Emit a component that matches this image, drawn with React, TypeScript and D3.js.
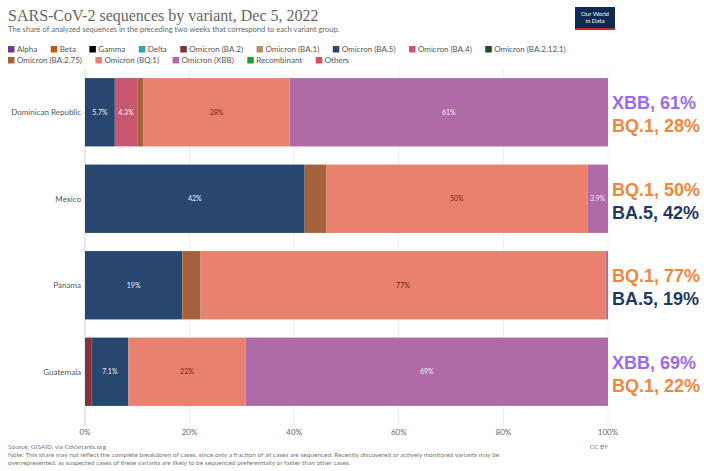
import React, { useMemo } from "react";
import * as d3 from "d3";

const countries = ["Dominican Republic", "Mexico", "Panama", "Guatemala"];
const variants = [
  "Alpha", "Beta", "Gamma", "Delta", "Omicron (BA.2)", "Omicron (BA.1)",
  "Omicron (BA.5)", "Omicron (BA.4)", "Omicron (BA.2.12.1)", "Omicron (BA.2.75)",
  "Omicron (BQ.1)", "Omicron (XBB)", "Recombinant", "Others",
];
const variantColors = [
  "#6d3e91", "#c05917", "#000000", "#3aa0a4", "#883039", "#c08a6c",
  "#27476f", "#c8566e", "#1b4a24", "#a5623a", "#e8816d", "#b16aa8", "#2b9a35", "#e24a5d",
];
// share (%) per country, in the order of `countries`
const ba2 = [0, 0, 0, 1.2];
const ba5 = [5.7, 42, 18.6, 7.1];
const ba4 = [4.3, 0, 0, 0];
const ba275 = [1.2, 4.1, 3.5, 0];
const bq1 = [27.9, 50, 77.4, 22.4];
const xbb = [60.9, 3.9, 0.5, 69.3];

const xTicks = [0, 20, 40, 60, 80, 100];

const annotTop = ["XBB, 61%", "BQ.1, 50%", "BQ.1, 77%", "XBB, 69%"];
const annotTopKind = ["XBB", "BQ.1", "BQ.1", "XBB"];
const annotBottom = ["BQ.1, 28%", "BA.5, 42%", "BA.5, 19%", "BQ.1, 22%"];
const annotBottomKind = ["BQ.1", "BA.5", "BA.5", "BQ.1"];
const annotColors: Record<string, string> = { XBB: "#9a6bf2", "BQ.1": "#f0873f", "BA.5": "#1f3a66" };

const title = "SARS-CoV-2 sequences by variant, Dec 5, 2022";
const subtitle = "The share of analyzed sequences in the preceding two weeks that correspond to each variant group.";
const source = "Source: GISAID, via CoVariants.org";
const note1 = "Note: This share may not reflect the complete breakdown of cases, since only a fraction of all cases are sequenced. Recently discovered or actively monitored variants may be";
const note2 = "overrepresented, as suspected cases of these variants are likely to be sequenced preferentially or faster than other cases.";

const W = 704, H = 471;
const FONT = "Lato, 'Noto Sans', sans-serif";

function measure(text: string, font: string) {
  const c = document.createElement("canvas").getContext("2d")!;
  c.font = font;
  return c.measureText(text).width;
}

export default function App() {
  const seriesByVariant: Record<string, number[]> = {
    "Omicron (BA.2)": ba2,
    "Omicron (BA.5)": ba5,
    "Omicron (BA.4)": ba4,
    "Omicron (BA.2.75)": ba275,
    "Omicron (BQ.1)": bq1,
    "Omicron (XBB)": xbb,
  };
  const rows = countries.map((c, i) => {
    const r: any = { country: c };
    variants.forEach((v) => (r[v] = seriesByVariant[v] ? seriesByVariant[v][i] : 0));
    return r;
  });
  const stack = d3.stack<any>().keys(variants)(rows);
  const color = d3.scaleOrdinal<string, string>().domain(variants).range(variantColors);

  const x = d3.scaleLinear().domain([0, 100]).range([85, 608]);
  const y = d3.scaleBand().domain(countries).range([69, 415]).paddingInner(0.21).paddingOuter(0.105);
  const bw = y.bandwidth();

  const legend = useMemo(() => {
    const items: { v: string; x: number; y: number }[] = [];
    let cx = 8, cy = 52;
    const f = "8px " + FONT;
    variants.forEach((v) => {
      const w = 9 + measure(v, f);
      if (cx + w > 640) { cx = 8; cy += 11; }
      items.push({ v, x: cx, y: cy });
      cx += w + 13.5;
    });
    return items;
  }, []);

  const fmt = (v: number) => (v < 10 ? v.toFixed(1) : Math.round(v).toString()) + "%";

  return (
    <svg width={W} height={H} style={{ position: "absolute", left: 0, top: 0, background: "#fff" }} fontFamily={FONT}>
      <text x={8} y={21} fontFamily="'Liberation Serif', serif" fontSize={16} fill="#666">{title}</text>
      <text x={8} y={32} fontSize={7.6} fill="#666">{subtitle}</text>
      {/* logo */}
      <g>
        <rect x={575} y={7} width={40} height={23} fill="#0d2a52" />
        <rect x={575} y={28} width={40} height={2} fill="#ce261e" />
        <text x={595} y={16} fontSize={6} fill="#fff" textAnchor="middle">Our World</text>
        <text x={595} y={23} fontSize={6} fill="#fff" textAnchor="middle">in Data</text>
      </g>
      {/* legend */}
      {legend.map((it) => (
        <g key={it.v}>
          <rect x={it.x} y={it.y - 6} width={6.5} height={6.5} fill={color(it.v)} />
          <text x={it.x + 9} y={it.y} fontSize={8} fill="#555">{it.v}</text>
        </g>
      ))}
      {/* grid */}
      {xTicks.map((t) => (
        <line key={t} x1={x(t)} x2={x(t)} y1={69} y2={426} stroke={t === 0 ? "#d5d5d5" : "#eeeeee"} strokeWidth={1} />
      ))}
      {xTicks.map((t) => (
        <text key={"l" + t} x={x(t)} y={435} fontSize={8} fill="#666" textAnchor="middle">{t}%</text>
      ))}
      {/* bars */}
      {stack.map((s) => (
        <g key={s.key} fill={color(s.key)}>
          {s.map((d, i) => {
            const w = x(d[1]) - x(d[0]);
            if (w <= 0) return null;
            return <rect key={i} x={x(d[0])} y={y(countries[i])!} width={w} height={bw} />;
          })}
        </g>
      ))}
      {stack.map((s) =>
        s.map((d, i) => {
          const v = d[1] - d[0];
          if (v < 3 || s.key === "Omicron (BA.2.75)") return null;
          const cx = (x(d[0]) + x(d[1])) / 2;
          const cy = y(countries[i])! + bw / 2;
          return (
            <text key={s.key + i} x={cx} y={cy + 2.5} fontSize={7} textAnchor="middle"
              fill={s.key === "Omicron (BQ.1)" ? "#6b2a1a" : "#f3eef5"}>
              {fmt(v)}
            </text>
          );
        })
      )}
      {/* country labels */}
      {countries.map((c) => (
        <text key={c} x={81} y={y(c)! + bw / 2 + 3} fontSize={8} fill="#555" textAnchor="end">{c}</text>
      ))}
      {/* annotations */}
      {countries.map((c, i) => {
        const cy = y(c)! + bw / 2;
        return (
          <g key={"a" + c} fontFamily="'Liberation Sans', Arial, sans-serif" fontWeight="bold" fontSize={18}>
            <text x={612} y={cy - 3} fill={annotColors[annotTopKind[i]]}>{annotTop[i]}</text>
            <text x={612} y={cy + 20} fill={annotColors[annotBottomKind[i]]}>{annotBottom[i]}</text>
          </g>
        );
      })}
      {/* footer */}
      <text x={8} y={449} fontSize={6.5} fill="#777">{source}</text>
      <text x={8} y={457} fontSize={6.5} fill="#777">{note1}</text>
      <text x={8} y={465} fontSize={6.5} fill="#777">{note2}</text>
      <text x={608} y={449} fontSize={6.5} fill="#777" textAnchor="end">CC BY</text>
    </svg>
  );
}
